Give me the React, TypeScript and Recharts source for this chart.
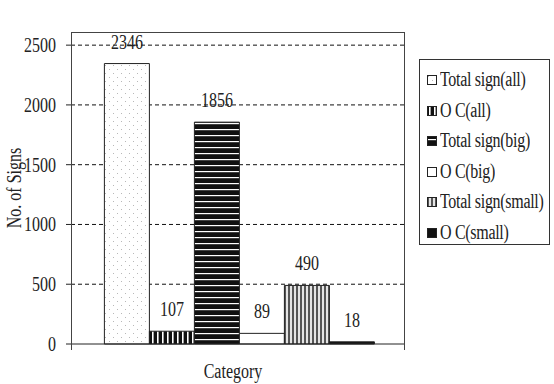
import React from 'react';
import { BarChart, Bar, XAxis, YAxis, CartesianGrid, LabelList, Legend } from 'recharts';

const categories = ['Category'];
const seriesKeys = ['totalAll', 'ocAll', 'totalBig', 'ocBig', 'totalSmall', 'ocSmall'];
const seriesNames = ['Total sign(all)', 'O C(all)', 'Total sign(big)', 'O C(big)', 'Total sign(small)', 'O C(small)'];
const seriesValues = [2346, 107, 1856, 89, 490, 18];
const yTicks = [0, 500, 1000, 1500, 2000, 2500];
const seriesFills = ['url(#pDots)', 'url(#pVBlack)', 'url(#pHBlack)', '#ffffff', 'url(#pVGray)', '#111111'];

const FONT = '"Liberation Serif", "Times New Roman", serif';
const STRETCH = 1.25;

const data = categories.map((c) => {
  const row: Record<string, any> = { category: c };
  seriesKeys.forEach((k, i) => {
    row[k] = seriesValues[i];
  });
  return row;
});

const YTick = (props: any) => {
  const { x, y, payload } = props;
  return (
    <g transform={`translate(${x},${y})`}>
      <text transform={`scale(1,${STRETCH})`} textAnchor="end" dy="0.35em" fontFamily={FONT} fontSize={16} fill="#222">
        {payload.value}
      </text>
    </g>
  );
};

const BarValueLabel = (props: any) => {
  const { x, y, width, value } = props;
  return (
    <g transform={`translate(${x + width / 2},${y - 22})`}>
      <text transform={`scale(1,${STRETCH})`} textAnchor="middle" dy="0.35em" fontFamily={FONT} fontSize={16} fill="#222">
        {value}
      </text>
    </g>
  );
};

const YTitle = (props: any) => {
  const { viewBox } = props;
  const cx = viewBox.x + 3;
  const cy = viewBox.y + viewBox.height / 2;
  return (
    <g transform={`translate(${cx},${cy}) rotate(-90)`}>
      <text transform={`scale(1,${STRETCH})`} textAnchor="middle" dy="0.35em" fontFamily={FONT} fontSize={16} fill="#222">
        No. of Signs
      </text>
    </g>
  );
};

const XTitle = (props: any) => {
  const { viewBox } = props;
  const cx = viewBox.x + viewBox.width / 2 - 5;
  const cy = viewBox.y + 27;
  return (
    <g transform={`translate(${cx},${cy})`}>
      <text transform={`scale(1,${STRETCH})`} textAnchor="middle" dy="0.35em" fontFamily={FONT} fontSize={16} fill="#222">
        Category
      </text>
    </g>
  );
};

const LegendBox = () => (
  <div
    style={{
      width: 131,
      height: 186,
      border: '1px solid #333',
      boxSizing: 'border-box',
      background: '#fff',
      fontFamily: FONT,
      fontSize: 16,
      color: '#222',
      padding: '5px 0 0 7px',
    }}
  >
    {seriesNames.map((n, i) => (
      <div key={n} style={{ height: 30.5, display: 'flex', alignItems: 'center', whiteSpace: 'nowrap' }}>
        <svg width={10} height={10} style={{ marginRight: 3, flex: 'none' }}>
          <rect x={0.5} y={0.5} width={9} height={9} fill={seriesFills[i]} stroke="#222" strokeWidth={1} />
        </svg>
        <span style={{ display: 'inline-block', transform: `scaleY(${STRETCH})`, letterSpacing: -0.3 }}>{n}</span>
      </div>
    ))}
  </div>
);

export default function App() {
  return (
    <div style={{ position: 'absolute', left: 0, top: 0, width: 554, height: 384, background: '#fff' }}>
      <BarChart
        width={554}
        height={384}
        data={data}
        margin={{ top: 32, right: 149, bottom: 10, left: 11 }}
        barGap={0}
        barCategoryGap="10%"
      >
        <defs>
          <pattern id="pDots" width={8} height={8} patternUnits="userSpaceOnUse">
            <rect width={8} height={8} fill="#ffffff" />
            <rect x={1} y={1} width={1} height={1} fill="#b8b8b8" />
            <rect x={5} y={5} width={1} height={1} fill="#b8b8b8" />
          </pattern>
          <pattern id="pVBlack" width={5} height={5} patternUnits="userSpaceOnUse">
            <rect width={5} height={5} fill="#111" />
            <rect x={2} y={0} width={1.6} height={5} fill="#ffffff" />
          </pattern>
          <pattern id="pHBlack" width={6} height={6} patternUnits="userSpaceOnUse">
            <rect width={6} height={6} fill="#111" />
            <rect x={0} y={3} width={6} height={1.2} fill="#ffffff" />
          </pattern>
          <pattern id="pVGray" width={4} height={4} patternUnits="userSpaceOnUse">
            <rect width={4} height={4} fill="#e4e4e4" />
            <rect x={0} y={0} width={2} height={4} fill="#555555" />
          </pattern>
        </defs>
        <CartesianGrid vertical={false} horizontal stroke="#111" strokeDasharray="4 3" horizontalValues={[500, 1000, 1500, 2000, 2500]} />
        <XAxis
          dataKey="category"
          tick={false}
          tickLine={false}
          axisLine={{ stroke: '#222' }}
          height={30}
          label={<XTitle />}
        />
        <YAxis
          domain={[0, 2610]}
          ticks={yTicks}
          interval={0}
          axisLine={false}
          tickLine={{ stroke: '#222' }}
          tickSize={5}
          tickMargin={10}
          width={60}
          tick={<YTick />}
          label={<YTitle />}
        />
        {seriesKeys.map((k, i) => (
          <Bar key={k} dataKey={k} name={seriesNames[i]} fill={seriesFills[i]} stroke="#222" strokeWidth={1} isAnimationActive={false}>
            <LabelList dataKey={k} content={<BarValueLabel />} />
          </Bar>
        ))}
        <Legend
          layout="vertical"
          align="center"
          verticalAlign="middle"
          wrapperStyle={{ left: 419, top: 59, width: 131 }}
          content={<LegendBox />}
        />
      </BarChart>
      <div
        style={{
          position: 'absolute',
          left: 71,
          top: 32,
          width: 334,
          height: 318,
          boxSizing: 'border-box',
          borderTop: '1px solid #444',
          borderLeft: '1px solid #444',
          borderRight: '1px solid #444',
          pointerEvents: 'none',
        }}
      />
    </div>
  );
}
